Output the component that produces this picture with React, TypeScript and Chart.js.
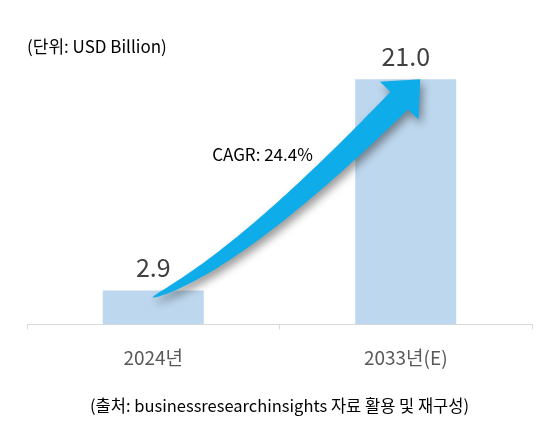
import { useEffect, useRef } from 'react';
import Chart from 'chart.js/auto';

const categories = ['2024년', '2033년(E)'];
const marketSize = [2.9, 21.0];
const valueLabels = ['2.9', '21.0'];
const unitText = '(단위: USD Billion)';
const cagrText = 'CAGR: 24.4%';
const sourceText = '(출처: businessresearchinsights 자료 활용 및 재구성)';

const FONT = "'Noto Sans CJK KR', 'Noto Sans', sans-serif";

// curved growth arrow + value labels + CAGR note
const overlayPlugin = {
  id: 'overlay',
  afterDatasetsDraw(chart: any) {
    const { ctx, chartArea } = chart;
    const bars = chart.getDatasetMeta(0).data;
    if (!bars || bars.length < 2) return;
    const b0 = bars[0];
    const b1 = bars[1];

    // arrow geometry taken from the bars
    const tail = { x: b0.x - 1, y: b0.y + 7 };
    const tip = { x: b1.x + 14.5, y: b1.y };
    const dir = { x: 0.7, y: -0.714 };
    const nrm = { x: 0.714, y: 0.7 };
    const headLen = 30;
    const headHalf = 27;
    const end = { x: tip.x - dir.x * headLen, y: tip.y - dir.y * headLen };
    const ctrl = {
      x: tail.x + 0.36 * (end.x - tail.x),
      y: tail.y - 0.19 * (tail.y - end.y),
    };

    const N = 60;
    const upper: { x: number; y: number }[] = [];
    const lower: { x: number; y: number }[] = [];
    for (let i = 0; i <= N; i++) {
      const t = i / N;
      const mt = 1 - t;
      const cx = mt * mt * tail.x + 2 * mt * t * ctrl.x + t * t * end.x;
      const cy = mt * mt * tail.y + 2 * mt * t * ctrl.y + t * t * end.y;
      const dx = 2 * mt * (ctrl.x - tail.x) + 2 * t * (end.x - ctrl.x);
      const dy = 2 * mt * (ctrl.y - tail.y) + 2 * t * (end.y - ctrl.y);
      const len = Math.hypot(dx, dy) || 1;
      const nx = -dy / len;
      const ny = dx / len;
      const w = 12.5 * Math.pow(t, 0.6);
      upper.push({ x: cx - nx * w, y: cy - ny * w });
      lower.push({ x: cx + nx * w, y: cy + ny * w });
    }

    ctx.save();
    ctx.shadowColor = 'rgba(0,0,0,0.4)';
    ctx.shadowBlur = 8;
    ctx.shadowOffsetX = 3;
    ctx.shadowOffsetY = 5;
    ctx.fillStyle = '#0FACEA';
    ctx.beginPath();
    ctx.moveTo(upper[0].x, upper[0].y);
    upper.forEach((p) => ctx.lineTo(p.x, p.y));
    ctx.lineTo(end.x - nrm.x * headHalf, end.y - nrm.y * headHalf);
    ctx.lineTo(tip.x, tip.y);
    ctx.lineTo(end.x + nrm.x * headHalf, end.y + nrm.y * headHalf);
    for (let i = lower.length - 1; i >= 0; i--) ctx.lineTo(lower[i].x, lower[i].y);
    ctx.closePath();
    ctx.fill();
    ctx.restore();

    // value labels above bars
    ctx.save();
    ctx.font = `25px ${FONT}`;
    ctx.fillStyle = '#404040';
    ctx.textAlign = 'center';
    ctx.textBaseline = 'middle';
    bars.forEach((bar: any, i: number) => {
      ctx.fillText(valueLabels[i], bar.x, bar.y - 23);
    });

    // CAGR note
    ctx.font = `17px ${FONT}`;
    ctx.fillStyle = '#000000';
    ctx.fillText(cagrText, (b0.x + b1.x) / 2 - 17, chartArea.top + 91);
    ctx.restore();
  },
};

const App = () => {
  const chartRef = useRef<HTMLCanvasElement>(null);
  const chartInstance = useRef<Chart | null>(null);

  useEffect(() => {
    if (!chartRef.current) return;
    if (chartInstance.current) chartInstance.current.destroy();
    const ctx = chartRef.current.getContext('2d');
    if (!ctx) return;

    chartInstance.current = new Chart(ctx, {
      type: 'bar',
      data: {
        labels: categories,
        datasets: [
          {
            data: marketSize,
            backgroundColor: '#BDD7EE',
            barPercentage: 0.4,
            categoryPercentage: 1,
          },
        ],
      },
      options: {
        animation: false,
        responsive: false,
        maintainAspectRatio: false,
        layout: { padding: { left: 19, right: 18, top: 0, bottom: 0 } },
        plugins: {
          legend: { display: false },
          tooltip: { enabled: false },
          title: {
            display: true,
            text: unitText,
            align: 'start',
            color: '#000000',
            font: { family: FONT, size: 17, weight: 'normal', lineHeight: 1.2 },
            padding: { top: 28, bottom: 7.6 },
          },
          subtitle: {
            display: true,
            position: 'bottom',
            text: sourceText,
            color: '#000000',
            font: { family: FONT, size: 16.5, weight: 'normal', lineHeight: 1.2 },
            padding: { top: 10, bottom: 12 },
          },
        },
        scales: {
          x: {
            grid: {
              display: true,
              drawOnChartArea: false,
              drawTicks: true,
              tickLength: 5,
              color: '#D9D9D9',
            },
            border: { display: true, color: '#D9D9D9' },
            ticks: {
              color: '#595959',
              padding: 17,
              font: { family: FONT, size: 19 },
            },
          },
          y: {
            display: false,
            min: 0,
            max: 22.3,
          },
        },
      },
      plugins: [overlayPlugin],
    });

    return () => {
      if (chartInstance.current) {
        chartInstance.current.destroy();
        chartInstance.current = null;
      }
    };
  }, []);

  return (
    <div style={{ width: 542, height: 420 }}>
      <canvas ref={chartRef} width={542} height={420} />
    </div>
  );
};

export default App;
